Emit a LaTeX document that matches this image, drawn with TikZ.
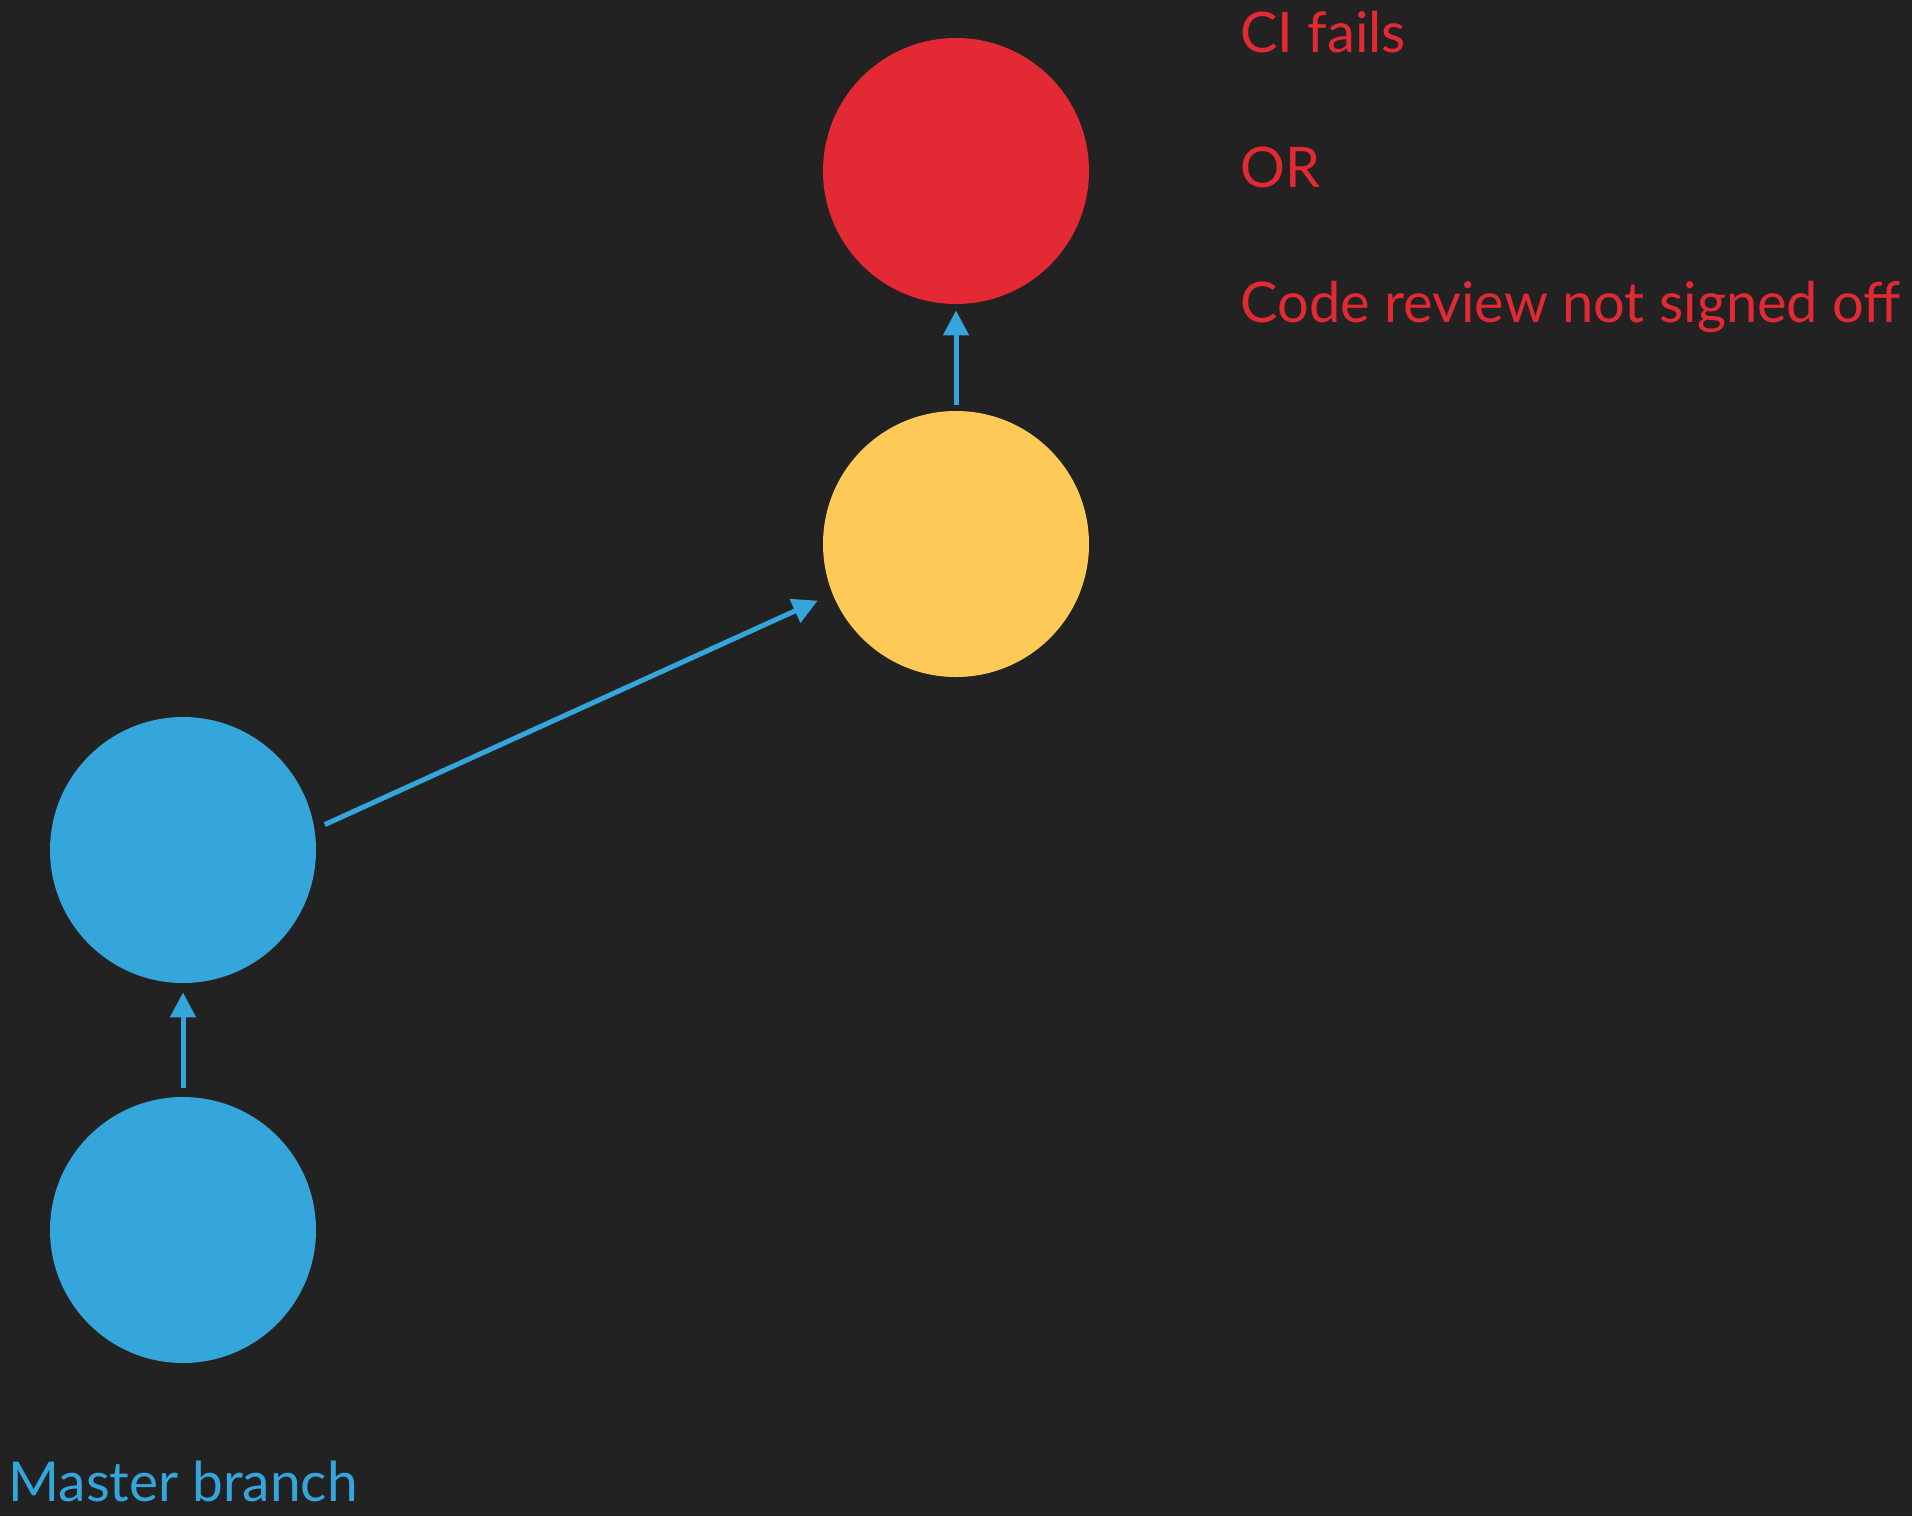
\documentclass[tikz,border=0pt]{standalone}
\usepackage{fontspec}
\setmainfont{Lato}
\usetikzlibrary{arrows.meta}
\definecolor{bg}{RGB}{34,34,34}
\definecolor{cred}{RGB}{227,41,52}
\definecolor{cyellow}{RGB}{254,202,87}
\definecolor{cblue}{RGB}{52,166,219}
\begin{document}
\begin{tikzpicture}[x=0.5pt,y=-0.5pt,
  commit/.style={circle,minimum size=133pt,inner sep=0pt,draw=none},
  arr/.style={draw=cblue,line width=2.5pt,-{Triangle[length=12.5pt,width=12.5pt]}},
  lbl/.style={anchor=base west,inner sep=0pt,font=\fontsize{28}{30}\selectfont}]
\fill[bg] (0,0) rectangle (1912,1516);
\useasboundingbox (0,0) rectangle (1912,1516);
\node[commit,fill=cred] (r) at (956,171) {};
\node[commit,fill=cyellow] (y) at (956,544) {};
\node[commit,fill=cblue] (b1) at (183,850) {};
\node[commit,fill=cblue] (b2) at (183,1230) {};
\draw[arr,shorten <=3pt,shorten >=3pt] (y.north) -- (r.south);
\draw[arr,shorten <=4.5pt,shorten >=4.5pt] (b2.north) -- (b1.south);
\draw[arr,shorten <=5.5pt,shorten >=8pt] (b1.9.2) -- (y.202.9);
\node[lbl,text=cred] (t1) at (1240,52) {CI fails};
\node[lbl,text=cred] (t2) at (1240,187) {OR};
\node[lbl,text=cred] (t3) at (1240,322) {Code review not signed off};
\node[lbl,text=cblue,font=\fontsize{27.5}{30}\selectfont] (t4) at (8,1501) {Master branch};
\end{tikzpicture}
\end{document}
